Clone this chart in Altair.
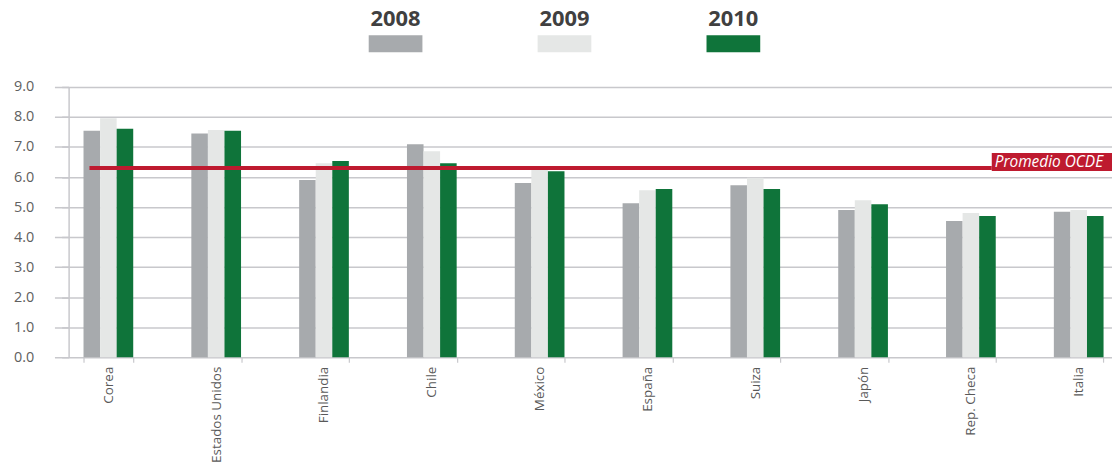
import altair as alt
import pandas as pd

countries = ["Corea", "Estados Unidos", "Finlandia", "Chile", "México",
             "España", "Suiza", "Japón", "Rep. Checa", "Italia"]
years = ["2008", "2009", "2010"]
v2008 = [7.54, 7.45, 5.90, 7.09, 5.80, 5.13, 5.73, 4.90, 4.54, 4.84]
v2009 = [7.96, 7.57, 6.46, 6.86, 6.26, 5.56, 5.98, 5.23, 4.80, 4.90]
v2010 = [7.61, 7.54, 6.53, 6.46, 6.19, 5.60, 5.60, 5.09, 4.70, 4.70]
ocde_value = [6.3]
ocde_label = ["Promedio OCDE"]
y_ticks = [0, 1, 2, 3, 4, 5, 6, 7, 8, 9]
colors = ["#A7AAAD", "#E5E7E6", "#0F743A"]

rows = []
for i, c in enumerate(countries):
    for yr, vals in zip(years, [v2008, v2009, v2010]):
        rows.append({"pais": c, "anio": yr, "valor": vals[i]})
df = pd.DataFrame(rows)
df_years = pd.DataFrame({"anio": years})
df_ocde = pd.DataFrame({"v": ocde_value, "lab": ocde_label})

W, H = 1050, 272
FONT = "Open Sans"
GRID = "#C8C8CC"
RED = "#BE1A2F"

color = alt.Color("anio:N", scale=alt.Scale(domain=years, range=colors), legend=None)
yscale = alt.Scale(domain=[0, 9], nice=False, zero=True)
yaxis = alt.Axis(values=y_ticks, format=".1f", labelFontSize=14.5,
                 labelColor="#606060", labelFont=FONT, labelPadding=28,
                 labelOverlap=False, tickCount=10,
                 tickSize=7, tickColor=GRID, tickWidth=1.5,
                 gridColor=GRID, gridWidth=1.5,
                 domainColor=GRID, domainWidth=1.5)


def Y(field):
    return alt.Y(field, type="quantitative", scale=yscale, title=None, axis=yaxis)


bars = alt.Chart(df).mark_bar().encode(
    x=alt.X("pais:N", sort=countries, title=None,
            scale=alt.Scale(domain=countries, range=[-14.25, 1070.75],
                            paddingInner=0.539, paddingOuter=0.2696),
            axis=alt.Axis(labelAngle=-90, labelAlign="right", labelBaseline="middle",
                          labelFontSize=13.5, labelColor="#595959", labelFont=FONT,
                          labelPadding=4, tickSize=5, tickColor=GRID, tickWidth=1.2,
                          tickBand="extent", domain=False, grid=False)),
    xOffset=alt.XOffset("anio:N", sort=years),
    y=Y("valor"),
    color=color,
)

rule = alt.Chart(df_ocde).mark_rule(color=RED, strokeWidth=4).encode(
    x=alt.value(21), x2=alt.value(929), y=Y("v"))

box = alt.Chart(df_ocde).mark_rect(color=RED, yOffset=-15, y2Offset=3).encode(
    x=alt.value(929), x2=alt.value(1052),
    y=Y("v"), y2=alt.Y2("v"))

box_text = alt.Chart(df_ocde).mark_text(
    align="left", baseline="alphabetic", dy=-1, fontStyle="italic",
    fontSize=15.5, color="white", font=FONT).encode(
    x=alt.value(932), y=Y("v"), text="lab:N")

leg_x = alt.X("anio:N", sort=years, axis=None,
              scale=alt.Scale(domain=years, range=[302, 696],
                              paddingInner=0.682, paddingOuter=0))
leg_rect = alt.Chart(df_years).mark_rect().encode(
    x=leg_x, y=alt.value(-52), y2=alt.value(-35), color=color)
leg_text = alt.Chart(df_years).mark_text(
    fontSize=22, fontWeight="bold", color="#404040", font=FONT,
    baseline="alphabetic").encode(x=leg_x, y=alt.value(-61), text="anio:N")

legend = alt.layer(leg_rect, leg_text)

chart = alt.layer(bars, rule, box, box_text, legend).resolve_scale(
    x="independent").properties(
    width=W, height=H,
    autosize=alt.AutoSizeParams(type="none"),
    padding={"left": 61, "top": 78, "right": 0, "bottom": 105},
).configure_view(stroke=None)

chart.save("out.html", embed_options={"renderer": "svg", "actions": False})
